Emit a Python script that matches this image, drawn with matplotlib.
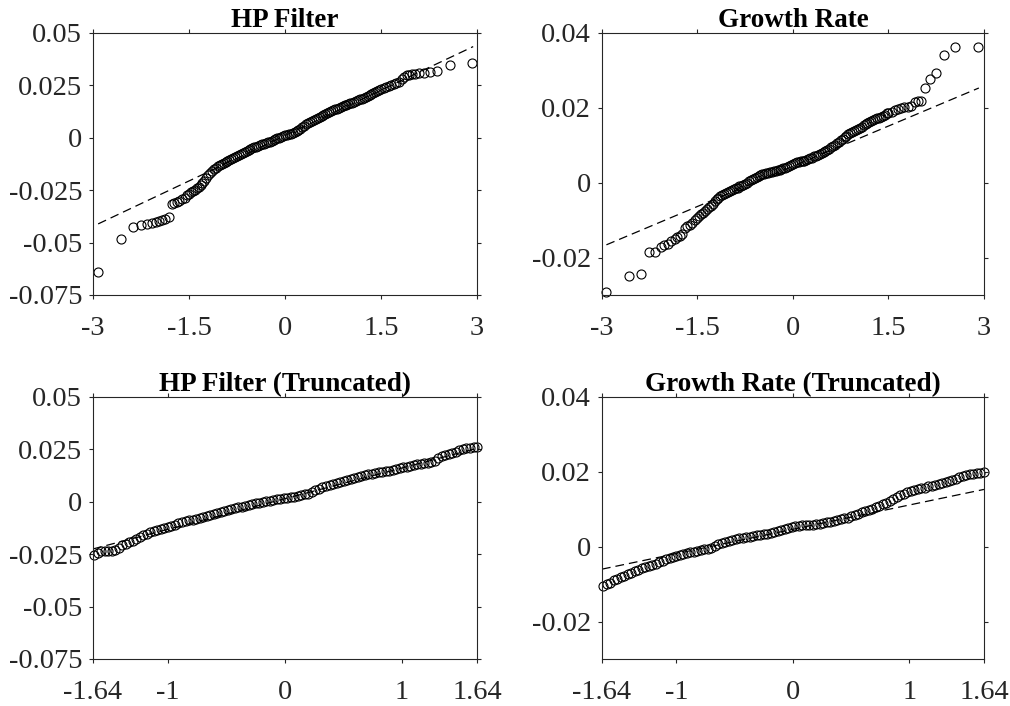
import matplotlib
matplotlib.use('Agg')
import matplotlib.pyplot as plt

plt.rcParams['font.family'] = ['Liberation Serif', 'DejaVu Serif']

# HP filter, full sample (theoretical quantile, sample quantile)
hp_x = [-2.92, -2.56, -2.38, -2.25, -2.16, -2.08, -2.02, -1.97, -1.92, -1.87, -1.82,
        -1.77, -1.73, -1.69, -1.65, -1.61, -1.57, -1.53,
        -1.50, -1.47, -1.44, -1.41, -1.38, -1.35, -1.32, -1.29, -1.26, -1.23, -1.20,
        -1.17, -1.14, -1.11, -1.08, -1.05, -1.02, -0.99, -0.96, -0.93, -0.90, -0.87,
        -0.84, -0.81, -0.78, -0.75, -0.72, -0.69, -0.66, -0.63, -0.60, -0.57, -0.54,
        -0.51, -0.48, -0.45, -0.42, -0.39, -0.36, -0.33, -0.30, -0.27, -0.24, -0.21,
        -0.18, -0.15, -0.12, -0.09, -0.06, -0.03, 0.00, 0.03, 0.06, 0.09, 0.12, 0.15,
        0.18, 0.21, 0.24, 0.27, 0.30, 0.33, 0.36, 0.39, 0.42, 0.45, 0.48, 0.51, 0.54,
        0.57, 0.60, 0.63, 0.66, 0.69, 0.72, 0.75, 0.78, 0.81, 0.84, 0.87, 0.90, 0.93,
        0.96, 0.99, 1.02, 1.05, 1.08, 1.11, 1.14, 1.17, 1.20, 1.23, 1.26, 1.29, 1.32,
        1.35, 1.38, 1.41, 1.44, 1.47, 1.50,
        1.54, 1.58, 1.62, 1.66, 1.70, 1.74, 1.78, 1.82, 1.86, 1.90, 1.94, 1.98, 2.03,
        2.09, 2.17, 2.26, 2.38, 2.57, 2.92]
hp_y = [-0.0639, -0.0481, -0.0424, -0.0414, -0.0412, -0.0405, -0.0401, -0.0398, -0.0394,
        -0.0388, -0.0378, -0.0316, -0.0312, -0.0306, -0.0300, -0.0293, -0.0285, -0.0275,
        -0.0267, -0.0261, -0.0255, -0.0248, -0.0241, -0.0233, -0.0225, -0.0215, -0.0204,
        -0.0192, -0.0180, -0.0168, -0.0158, -0.0150, -0.0143, -0.0137, -0.0131, -0.0127,
        -0.0122, -0.0117, -0.0112, -0.0107, -0.0103, -0.0098, -0.0093, -0.0089, -0.0084,
        -0.0079, -0.0074, -0.0069, -0.0064, -0.0059, -0.0055, -0.0050, -0.0046, -0.0043,
        -0.0039, -0.0036, -0.0032, -0.0029, -0.0026, -0.0022, -0.0018, -0.0014, -0.0010,
        -0.0006, -0.0002, 0.0001, 0.0004, 0.0007, 0.0011, 0.0014, 0.0017, 0.0019, 0.0022,
        0.0026, 0.0030, 0.0035, 0.0041, 0.0049, 0.0057, 0.0064, 0.0070, 0.0076, 0.0081,
        0.0085, 0.0090, 0.0095, 0.0100, 0.0104, 0.0109, 0.0114, 0.0118, 0.0122, 0.0127,
        0.0131, 0.0135, 0.0139, 0.0143, 0.0146, 0.0150, 0.0154, 0.0157, 0.0161, 0.0165,
        0.0168, 0.0172, 0.0175, 0.0179, 0.0183, 0.0187, 0.0190, 0.0194, 0.0198, 0.0203,
        0.0208, 0.0214, 0.0220, 0.0225, 0.0229, 0.0233,
        0.0239, 0.0244, 0.0248, 0.0253, 0.0257, 0.0261, 0.0267, 0.0279, 0.0290, 0.0298,
        0.0301, 0.0303, 0.0305, 0.0308, 0.0311, 0.0314, 0.0320, 0.0349, 0.0355]
hp_line_x = [-2.92, 2.94]
hp_line_y = [-0.0411, 0.0435]

# growth rate, full sample
gr_x = [-2.94, -2.58, -2.39, -2.26, -2.16, -2.08, -2.02, -1.96, -1.91, -1.86, -1.82,
        -1.78, -1.74, -1.70, -1.66, -1.62, -1.58, -1.54,
        -1.50, -1.47, -1.44, -1.41, -1.38, -1.35, -1.32, -1.29, -1.26, -1.23, -1.20,
        -1.17, -1.14, -1.11, -1.08, -1.05, -1.02, -0.99, -0.96, -0.93, -0.90, -0.87,
        -0.84, -0.81, -0.78, -0.75, -0.72, -0.69, -0.66, -0.63, -0.60, -0.57, -0.54,
        -0.51, -0.48, -0.45, -0.42, -0.39, -0.36, -0.33, -0.30, -0.27, -0.24, -0.21,
        -0.18, -0.15, -0.12, -0.09, -0.06, -0.03, 0.00, 0.03, 0.06, 0.09, 0.12, 0.15,
        0.18, 0.21, 0.24, 0.27, 0.30, 0.33, 0.36, 0.39, 0.42, 0.45, 0.48, 0.51, 0.54,
        0.57, 0.60, 0.63, 0.66, 0.69, 0.72, 0.75, 0.78, 0.81, 0.84, 0.87, 0.90, 0.93,
        0.96, 0.99, 1.02, 1.05, 1.08, 1.11, 1.14, 1.17, 1.20, 1.23, 1.26, 1.29, 1.32,
        1.35, 1.38, 1.41, 1.44, 1.47, 1.50,
        1.55, 1.60, 1.65, 1.70, 1.75, 1.80, 1.85, 1.91, 1.96, 2.01, 2.07, 2.15, 2.25,
        2.37, 2.55, 2.91]
gr_y = [-0.0293, -0.0248, -0.0245, -0.0185, -0.0184, -0.0172, -0.0167, -0.0163, -0.0156,
        -0.0150, -0.0146, -0.0142, -0.0138, -0.0122, -0.0117, -0.0113, -0.0108, -0.0100,
        -0.0094, -0.0090, -0.0085, -0.0080, -0.0075, -0.0070, -0.0065, -0.0061, -0.0056,
        -0.0049, -0.0044, -0.0040, -0.0036, -0.0033, -0.0030, -0.0027, -0.0025, -0.0022,
        -0.0020, -0.0018, -0.0015, -0.0013, -0.0010, -0.0008, -0.0005, -0.0003, 0.0000,
        0.0004, 0.0007, 0.0010, 0.0013, 0.0016, 0.0018, 0.0020, 0.0022, 0.0023, 0.0025,
        0.0026, 0.0028, 0.0029, 0.0030, 0.0031, 0.0033, 0.0035, 0.0036, 0.0038, 0.0040,
        0.0043, 0.0045, 0.0048, 0.0050, 0.0052, 0.0054, 0.0055, 0.0057, 0.0058, 0.0059,
        0.0061, 0.0062, 0.0065, 0.0067, 0.0070, 0.0072, 0.0074, 0.0076, 0.0078, 0.0081,
        0.0084, 0.0088, 0.0091, 0.0095, 0.0099, 0.0102, 0.0105, 0.0109, 0.0113, 0.0118,
        0.0122, 0.0126, 0.0130, 0.0132, 0.0135, 0.0138, 0.0141, 0.0144, 0.0147, 0.0150,
        0.0153, 0.0156, 0.0159, 0.0162, 0.0164, 0.0167, 0.0169, 0.0172, 0.0174, 0.0176,
        0.0179, 0.0182, 0.0185, 0.0187,
        0.0190, 0.0194, 0.0197, 0.0199, 0.0201, 0.0203, 0.0205, 0.0215, 0.0217, 0.0218,
        0.0253, 0.0276, 0.0292, 0.0341, 0.0362, 0.0362]
gr_line_x = [-2.93, 2.92]
gr_line_y = [-0.0166, 0.0253]

# HP filter, truncated
hpt_x = [-1.63, -1.60, -1.57, -1.54, -1.51, -1.48, -1.45, -1.42, -1.39, -1.36, -1.33,
         -1.30, -1.27, -1.24, -1.21, -1.18, -1.15, -1.12, -1.09, -1.06, -1.03, -1.00,
         -0.97, -0.94, -0.91, -0.88, -0.85, -0.82, -0.79, -0.76, -0.73, -0.70, -0.67,
         -0.64, -0.61, -0.58, -0.55, -0.52, -0.49, -0.46, -0.43, -0.40, -0.37, -0.34,
         -0.31, -0.28, -0.25, -0.22, -0.19, -0.16, -0.13, -0.10, -0.07, -0.04, -0.01,
         0.02, 0.05, 0.08, 0.11, 0.14, 0.17, 0.20, 0.23, 0.26, 0.29, 0.32, 0.35, 0.38,
         0.41, 0.44, 0.47, 0.50, 0.53, 0.56, 0.59, 0.62, 0.65, 0.68, 0.71, 0.74, 0.77,
         0.80, 0.83, 0.86, 0.89, 0.92, 0.95, 0.98, 1.01, 1.04, 1.07, 1.10, 1.13, 1.16,
         1.19, 1.22, 1.25, 1.28, 1.31, 1.34, 1.37, 1.40, 1.43, 1.46, 1.49, 1.52, 1.55,
         1.58, 1.61, 1.64]
hpt_y = [-0.0255, -0.0242, -0.0237, -0.0235, -0.0234, -0.0233, -0.0230, -0.0222, -0.0207,
         -0.0200, -0.0193, -0.0186, -0.0177, -0.0168, -0.0160, -0.0153, -0.0146, -0.0141,
         -0.0137, -0.0132, -0.0127, -0.0122, -0.0116, -0.0110, -0.0103, -0.0098, -0.0094,
         -0.0089, -0.0085, -0.0080, -0.0076, -0.0071, -0.0067, -0.0062, -0.0058, -0.0053,
         -0.0049, -0.0044, -0.0040, -0.0036, -0.0031, -0.0027, -0.0023, -0.0019, -0.0015,
         -0.0011, -0.0007, -0.0004, 0.0000, 0.0003, 0.0006, 0.0009, 0.0011, 0.0013, 0.0016,
         0.0019, 0.0021, 0.0024, 0.0027, 0.0031, 0.0035, 0.0039, 0.0046, 0.0054, 0.0062,
         0.0069, 0.0075, 0.0080, 0.0085, 0.0090, 0.0096, 0.0101, 0.0105, 0.0110, 0.0114,
         0.0118, 0.0123, 0.0127, 0.0131, 0.0134, 0.0137, 0.0140, 0.0143, 0.0146, 0.0149,
         0.0153, 0.0157, 0.0160, 0.0164, 0.0168, 0.0172, 0.0175, 0.0179, 0.0182, 0.0185,
         0.0187, 0.0189, 0.0195, 0.0208, 0.0217, 0.0222, 0.0227, 0.0231, 0.0237, 0.0245,
         0.0251, 0.0255, 0.0258, 0.0260, 0.0262]
hpt_line_x = [-1.64, 1.64]
hpt_line_y = [-0.0225, 0.0255]

# growth rate, truncated
grt_x = hpt_x
grt_y = [-0.0106, -0.0101, -0.0096, -0.0090, -0.0085, -0.0081, -0.0077, -0.0074, -0.0069,
         -0.0066, -0.0062, -0.0058, -0.0055, -0.0052, -0.0048, -0.0045, -0.0041, -0.0037,
         -0.0033, -0.0030, -0.0027, -0.0024, -0.0022, -0.0019, -0.0017, -0.0015, -0.0013,
         -0.0011, -0.0009, -0.0007, -0.0005, -0.0003, 0.0001, 0.0006, 0.0010, 0.0013,
         0.0016, 0.0018, 0.0021, 0.0022, 0.0024, 0.0026, 0.0027, 0.0029, 0.0030, 0.0031,
         0.0033, 0.0035, 0.0037, 0.0039, 0.0042, 0.0045, 0.0047, 0.0049, 0.0052, 0.0054,
         0.0055, 0.0057, 0.0058, 0.0058, 0.0059, 0.0060, 0.0061, 0.0063, 0.0065, 0.0067,
         0.0069, 0.0071, 0.0074, 0.0076, 0.0078, 0.0081, 0.0084, 0.0088, 0.0092, 0.0095,
         0.0098, 0.0102, 0.0106, 0.0109, 0.0113, 0.0117, 0.0121, 0.0127, 0.0133, 0.0138,
         0.0142, 0.0145, 0.0148, 0.0151, 0.0153, 0.0156, 0.0158, 0.0161, 0.0163, 0.0166,
         0.0168, 0.0170, 0.0173, 0.0175, 0.0178, 0.0181, 0.0185, 0.0188, 0.0191, 0.0193,
         0.0195, 0.0197, 0.0198, 0.0200]
grt_line_x = [-1.64, 1.64]
grt_line_y = [-0.0060, 0.0153]

titles = ['HP Filter', 'Growth Rate', 'HP Filter (Truncated)', 'Growth Rate (Truncated)']

xt_full = [-3, -1.5, 0, 1.5, 3]
xt_full_lab = ['-3', '-1.5', '0', '1.5', '3']
xt_trunc = [-1.64, -1, 0, 1, 1.64]
xt_trunc_lab = ['-1.64', '-1', '0', '1', '1.64']
yt_hp = [-0.075, -0.05, -0.025, 0, 0.025, 0.05]
yt_hp_lab = ['-0.075', '-0.05', '-0.025', '0', '0.025', '0.05']
yt_gr = [-0.02, 0, 0.02, 0.04]
yt_gr_lab = ['-0.02', '0', '0.02', '0.04']

grey = '#262626'

fig = plt.figure(figsize=(10.1, 7.06), dpi=100)
boxes = [[0.0921, 0.5822, 0.3802, 0.3711],
         [0.5960, 0.5822, 0.3782, 0.3711],
         [0.0921, 0.0666, 0.3802, 0.3711],
         [0.5960, 0.0666, 0.3782, 0.3711]]

panels = [(hp_x, hp_y, hp_line_x, hp_line_y, (-3, 3), xt_full, xt_full_lab, (-0.075, 0.05), yt_hp, yt_hp_lab),
          (gr_x, gr_y, gr_line_x, gr_line_y, (-3, 3), xt_full, xt_full_lab, (-0.03, 0.04), yt_gr, yt_gr_lab),
          (hpt_x, hpt_y, hpt_line_x, hpt_line_y, (-1.64, 1.64), xt_trunc, xt_trunc_lab, (-0.075, 0.05), yt_hp, yt_hp_lab),
          (grt_x, grt_y, grt_line_x, grt_line_y, (-1.64, 1.64), xt_trunc, xt_trunc_lab, (-0.03, 0.04), yt_gr, yt_gr_lab)]

for i in range(4):
    px, py, lx, ly, xl, xt, xtl, yl, yt, ytl = panels[i]
    ax = fig.add_axes(boxes[i])
    ax.plot(lx, ly, color='k', lw=0.9, dashes=(7, 4))
    ax.plot(px, py, 'o', mfc='none', mec='k', ms=6.5, mew=0.8, clip_on=False)
    ax.set_xlim(xl)
    ax.set_ylim(yl)
    ax.set_xticks(xt)
    ax.set_xticklabels(xtl)
    ax.set_yticks(yt)
    ax.set_yticklabels(ytl)
    ax.tick_params(direction='out', top=True, right=True, length=2.9, width=0.8,
                   labelsize=20.5, colors=grey)
    ax.tick_params(axis='x', pad=12.5)
    ax.tick_params(axis='y', pad=5)
    for s in ax.spines.values():
        s.set_color(grey)
        s.set_linewidth(0.8)
    ax.set_title(titles[i], fontsize=19.5, fontweight='bold', pad=4)

fig.savefig('out.png', dpi=100)
